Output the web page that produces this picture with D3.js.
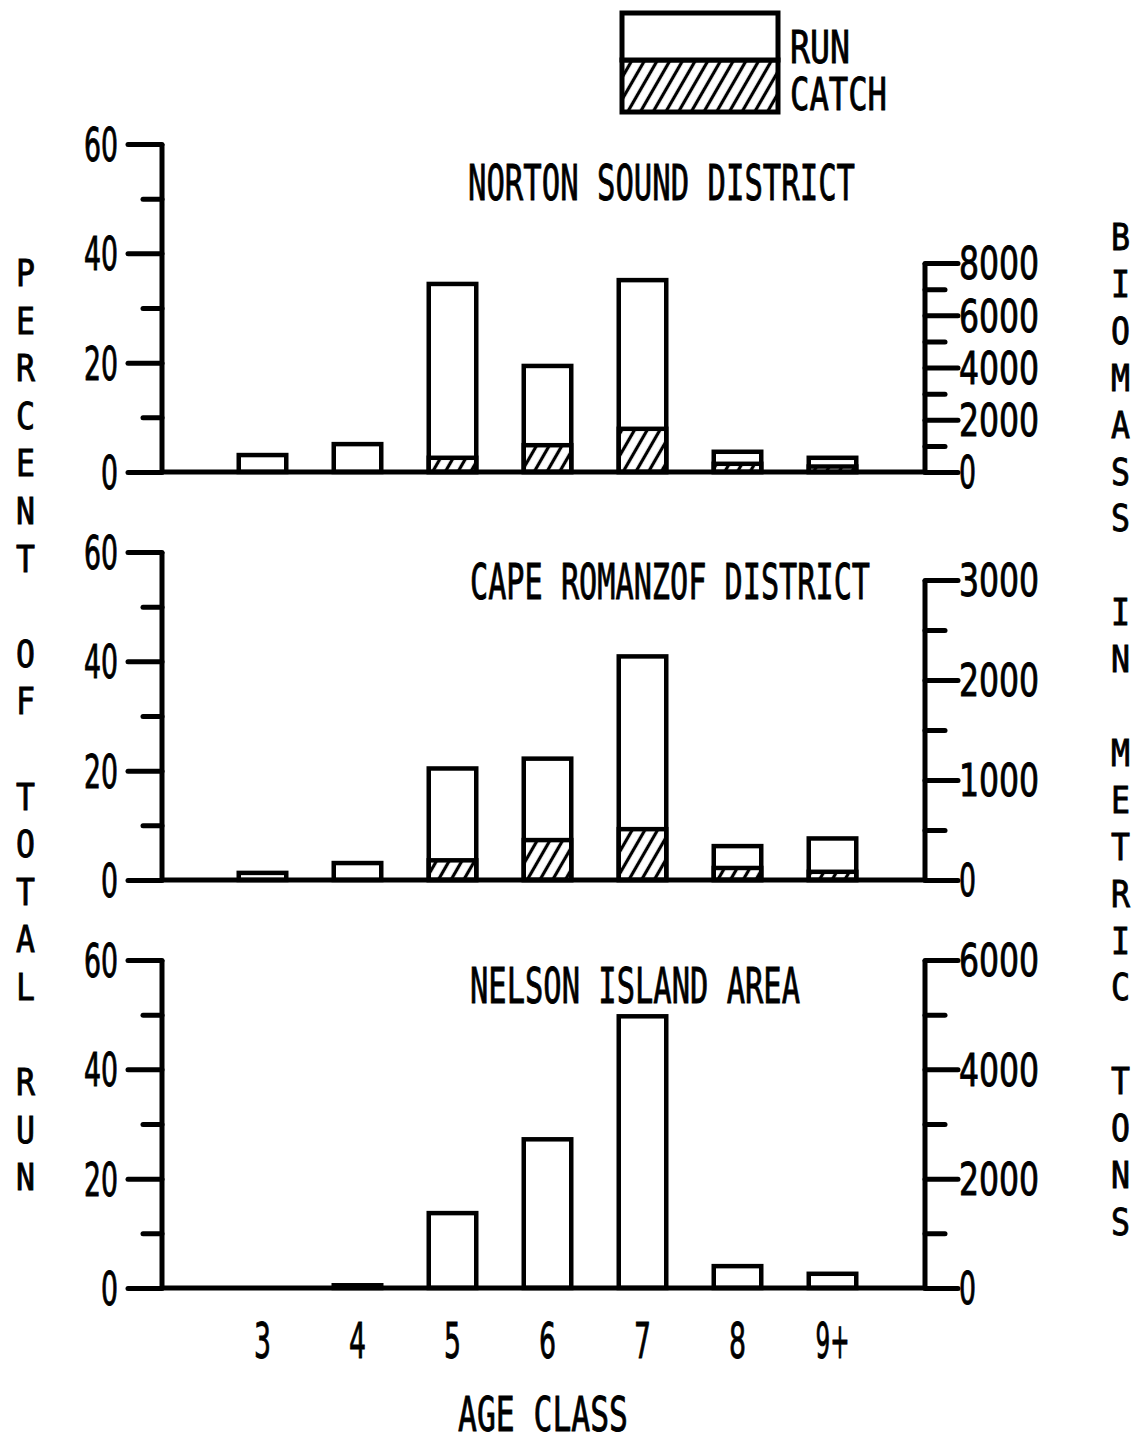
<!DOCTYPE html>
<html>
<head>
<meta charset="utf-8">
<script src="https://cdn.jsdelivr.net/npm/d3@7"></script>
<style>
  body { margin: 0; background: #fff; }
  svg text { font-family: "DejaVu Sans Condensed", "Liberation Sans Narrow", sans-serif; fill: #000; stroke: #000; stroke-width: 0.9px; }
  svg text.mono { font-family: "DejaVu Sans Mono", "Liberation Mono", monospace; }
</style>
</head>
<body>
<svg id="chart" width="1136" height="1442"></svg>
<script>
(function () {
  // ---- data (percent of total run) ----
  var ageClasses = ["3", "4", "5", "6", "7", "8", "9+"];

  var panelNames = ["NORTON SOUND DISTRICT", "CAPE ROMANZOF DISTRICT", "NELSON ISLAND AREA"];

  var nortonRun = [3.1, 5.1, 34.4, 19.4, 35.1, 3.7, 2.6];
  var nortonCatch = [0, 0, 2.6, 4.9, 7.9, 1.5, 1.0];

  var capeRun = [1.3, 3.1, 20.4, 22.2, 40.9, 6.2, 7.6];
  var capeCatch = [0, 0, 3.6, 7.3, 9.3, 2.2, 1.5];

  var nelsonRun = [0, 0.5, 13.7, 27.2, 49.7, 4.0, 2.6];
  var nelsonCatch = [0, 0, 0, 0, 0, 0, 0];

  var percentTicks = [0, 20, 40, 60];
  var percentMinor = [10, 30, 50];

  // biomass (metric tons) right-hand axes
  var biomassMax = [8000, 3000, 6000];
  var biomassLabels = [[0, 2000, 4000, 6000, 8000], [0, 1000, 2000, 3000], [0, 2000, 4000, 6000]];
  var biomassStep = [1000, 500, 1000];

  var leftTitle = "PERCENT OF TOTAL RUN";
  var rightTitle = "BIOMASS IN METRIC TONS";

  var runs = [nortonRun, capeRun, nelsonRun];
  var catches = [nortonCatch, capeCatch, nelsonCatch];

  // ---- layout ----
  var svg = d3.select("#chart");
  var plotLeft = 162,
    plotRight = 925,
    panelHeight = 328;
  var bases = [472, 880, 1288];
  var bioTops = [263, 580, 960];
  var lw = 5;

  // hatch pattern for the catch part of the bars
  var defs = svg.append("defs");
  defs
    .append("pattern")
    .attr("id", "hatch")
    .attr("patternUnits", "userSpaceOnUse")
    .attr("width", 11)
    .attr("height", 11)
    .attr("patternTransform", "rotate(30)")
    .append("line")
    .attr("x1", 5.5)
    .attr("y1", -2)
    .attr("x2", 5.5)
    .attr("y2", 13)
    .attr("stroke", "#000")
    .attr("stroke-width", 3.2);

  var x = d3
    .scaleBand()
    .domain(ageClasses)
    .range([215, 880])
    .paddingInner(0.5)
    .paddingOuter(0.25);

  // helper for squeezed plotter style text
  function label(g, str, px, py, size, len, anchor) {
    var t = g
      .append("text")
      .attr("class", "mono")
      .attr("x", px)
      .attr("y", py)
      .attr("font-size", size)
      .attr("text-anchor", anchor || "start")
      .text(str);
    if (len) t.attr("textLength", len).attr("lengthAdjust", "spacingAndGlyphs");
    return t;
  }

  var fmt = d3.format("d");

  panelNames.forEach(function (name, p) {
    var base = bases[p];
    var g = svg.append("g");

    var y = d3.scaleLinear().domain([0, 60]).range([base, base - panelHeight]);
    var yb = d3.scaleLinear().domain([0, biomassMax[p]]).range([base, bioTops[p]]);

    var rows = ageClasses.map(function (a, i) {
      return { age: a, run: runs[p][i], catch: catches[p][i] };
    });

    // run bars (outline only)
    g.append("g")
      .selectAll("rect")
      .data(rows.filter((d) => d.run > 0))
      .join("rect")
      .attr("x", (d) => x(d.age))
      .attr("y", (d) => y(d.run))
      .attr("width", x.bandwidth())
      .attr("height", (d) => y(0) - y(d.run))
      .attr("fill", "#fff")
      .attr("stroke", "#000")
      .attr("stroke-width", 4.5);

    // catch bars (hatched)
    g.append("g")
      .selectAll("rect")
      .data(rows.filter((d) => d.catch > 0))
      .join("rect")
      .attr("x", (d) => x(d.age))
      .attr("y", (d) => y(d.catch))
      .attr("width", x.bandwidth())
      .attr("height", (d) => y(0) - y(d.catch))
      .attr("fill", "url(#hatch)")
      .attr("stroke", "#000")
      .attr("stroke-width", 4.5);

    // baseline
    g.append("line")
      .attr("x1", plotLeft)
      .attr("x2", plotRight)
      .attr("y1", y(0))
      .attr("y2", y(0))
      .attr("stroke", "#000")
      .attr("stroke-width", lw)
      .attr("stroke-linecap", "round");

    // ===== left axis: percent =====
    var left = g.append("g").attr("transform", "translate(" + plotLeft + ",0)");
    left
      .append("g")
      .call(d3.axisLeft(y).tickValues(percentMinor).tickSize(19).tickSizeOuter(0).tickFormat(""))
      .call((a) => a.select(".domain").remove())
      .call((a) => a.selectAll(".tick text").remove()); //minor ticks carry no labels
    left
      .append("g")
      .call(d3.axisLeft(y).tickValues(percentTicks).tickSize(34).tickSizeOuter(0).tickPadding(10));
    left.selectAll("path.domain").attr("stroke-width", lw).attr("d", "M0," + y(0) + "V" + y(60));
    left.selectAll(".tick line").attr("stroke-width", lw).attr("stroke-linecap", "round");
    left
      .selectAll(".tick text")
      .attr("font-size", 46)
      .attr("dy", "0.36em")
      .attr("x", -44)
      .attr("textLength", (d) => String(d).length * 17)
      .attr("lengthAdjust", "spacingAndGlyphs");

    // ===== right axis: biomass =====
    var right = g.append("g").attr("transform", "translate(" + plotRight + ",0)");
    right
      .append("g")
      .call(
        d3
          .axisRight(yb)
          .tickValues(d3.range(0, biomassMax[p] + 1, biomassStep[p]).filter((v) => biomassLabels[p].indexOf(v) < 0))
          .tickSize(20)
          .tickSizeOuter(0)
          .tickFormat("")
      )
      .call((a) => a.select(".domain").remove())
      .call((a) => a.selectAll(".tick text").remove());
    right
      .append("g")
      .call(d3.axisRight(yb).tickValues(biomassLabels[p]).tickFormat(fmt).tickSize(33).tickSizeOuter(0).tickPadding(1));
    right.selectAll("path.domain").attr("stroke-width", lw).attr("d", "M0," + yb(0) + "V" + yb(biomassMax[p]));
    right.selectAll(".tick line").attr("stroke-width", lw).attr("stroke-linecap", "round");
    right
      .selectAll(".tick text")
      .attr("font-size", 44)
      .attr("dy", "0.36em")
      .attr("textLength", (d) => (d === 0 ? 17 : fmt(d).length * 20))
      .attr("lengthAdjust", "spacingAndGlyphs");

    g.selectAll(".tick text").attr("fill", "#000");
    g.selectAll(".domain, .tick line").attr("stroke", "#000");
    g.selectAll("g").attr("font-family", null);

    // panel title
    var titleLen = [387, 400, 330];
    var titleX = [468, 470, 470];
    label(g, name, titleX[p], y(60) + (p === 0 ? 56 : p === 1 ? 47 : 43), 49, titleLen[p]);
  });

  // ===== x axis labels under the bottom panel =====
  var xAxis = svg
    .append("g")
    .attr("transform", "translate(0," + (bases[2] + 10) + ")")
    .call(d3.axisBottom(x).tickSize(0).tickPadding(24));
  xAxis.attr("font-family", null);
  xAxis.select(".domain").remove();
  xAxis
    .selectAll(".tick text")
    .attr("font-size", 50)
    .attr("fill", "#000")
    .attr("textLength", (d) => d.length * 17)
    .attr("lengthAdjust", "spacingAndGlyphs");

  label(svg, "AGE CLASS", 458, 1431, 48, 170);

  // ===== stacked vertical axis titles =====
  svg
    .append("g")
    .selectAll("text")
    .data(leftTitle.split(""))
    .join("text")
    .attr("class", "mono")
    .attr("x", 16)
    .attr("y", (d, i) => 286 + i * 47.6)
    .attr("font-size", 37)
    .attr("textLength", 19)
    .attr("lengthAdjust", "spacingAndGlyphs")
    .text((d) => d);

  svg
    .append("g")
    .selectAll("text")
    .data(rightTitle.split(""))
    .join("text")
    .attr("class", "mono")
    .attr("x", 1111)
    .attr("y", (d, i) => 250 + i * 46.9)
    .attr("font-size", 37)
    .attr("textLength", 19)
    .attr("lengthAdjust", "spacingAndGlyphs")
    .text((d) => d);

  // ===== legend =====
  var legend = svg.append("g");
  legend
    .append("rect")
    .attr("x", 622)
    .attr("y", 60)
    .attr("width", 156)
    .attr("height", 52)
    .attr("fill", "url(#hatch)")
    .attr("stroke", "#000")
    .attr("stroke-width", lw);
  legend
    .append("rect")
    .attr("x", 622)
    .attr("y", 13)
    .attr("width", 156)
    .attr("height", 47)
    .attr("fill", "#fff")
    .attr("stroke", "#000")
    .attr("stroke-width", lw);
  label(legend, "RUN", 790, 63, 44, 60);
  label(legend, "CATCH", 790, 110, 44, 97);
})();
</script>
</body>
</html>
